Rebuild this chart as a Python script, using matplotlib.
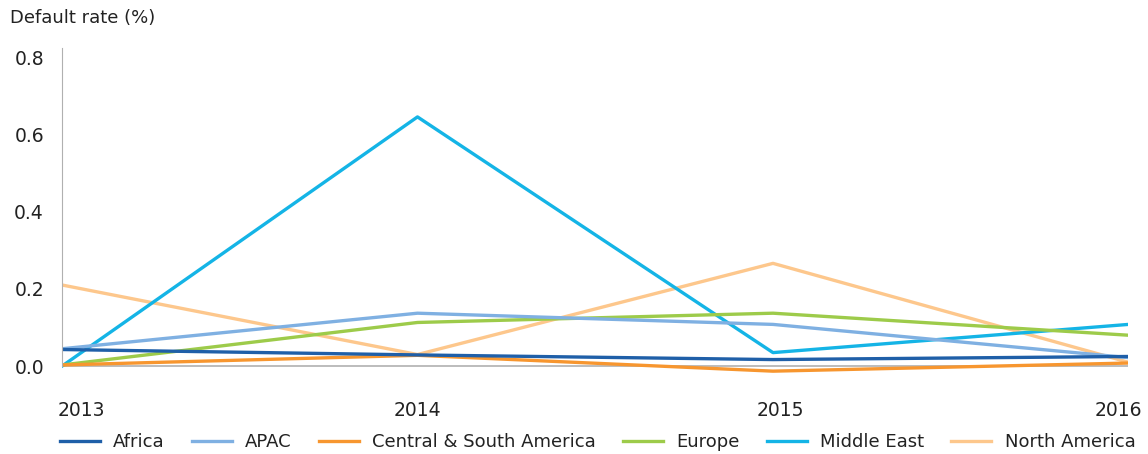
import matplotlib.pyplot as plt
from matplotlib.transforms import ScaledTranslation

plt.rcParams['font.family'] = ['DejaVu Sans']

# Data
years = [2013, 2014, 2015, 2016]
africa = [0.043, 0.029, 0.017, 0.025]
apac = [0.045, 0.137, 0.108, 0.022]
csa = [0.003, 0.028, -0.013, 0.008]
europe = [0.003, 0.113, 0.137, 0.080]
middle_east = [0.000, 0.645, 0.035, 0.108]
north_america = [0.210, 0.030, 0.266, 0.010]

series = [
    ('Africa', africa, '#1f5fa8'),
    ('APAC', apac, '#7fb0e2'),
    ('Central & South America', csa, '#f7962f'),
    ('Europe', europe, '#9dcb4a'),
    ('Middle East', middle_east, '#14b4e6'),
    ('North America', north_america, '#fdc78c'),
]

fig = plt.figure(figsize=(11.48, 4.54), dpi=100)
ax = fig.add_axes([0.054, 0.168, 0.929, 0.726])

ax.axhline(0, color='#b0b0b0', lw=1.2, zorder=1)
for name, vals, col in reversed(series):
    ax.plot(years, vals, color=col, lw=2.4, label=name, zorder=2)

ax.set_xlim(2013, 2016)
ax.set_ylim(-0.03, 0.823)
ax.set_yticks([0.0, 0.2, 0.4, 0.6, 0.8])
ax.set_yticklabels(['0.0', '0.2', '0.4', '0.6', '0.8'])
ax.set_xticks(years)
ax.set_xticklabels([str(y) for y in years])
ax.tick_params(axis='both', length=0, labelsize=13.5, colors='#222222')
ax.tick_params(axis='y', pad=13)
ax.tick_params(axis='x', pad=17)

# nudge year labels like the original
shifts = [-4, 0, 7, 14]
aligns = ['left', 'center', 'center', 'right']
for lab, dx, ha in zip(ax.get_xticklabels(), shifts, aligns):
    lab.set_ha(ha)
    lab.set_transform(lab.get_transform() + ScaledTranslation(dx / 100, 0, fig.dpi_scale_trans))

for s in ['top', 'right', 'bottom']:
    ax.spines[s].set_visible(False)
ax.spines['left'].set_color('#b0b0b0')
ax.spines['left'].set_bounds(0, 0.823)

fig.text(0.009, 0.96, 'Default rate (%)', fontsize=13, color='#222222', va='center')

handles, labels = ax.get_legend_handles_labels()
fig.legend(handles[::-1], labels[::-1], loc='center left', bbox_to_anchor=(0.046, 0.026),
           ncol=6, frameon=False, fontsize=13, handlelength=2.2, handletextpad=0.75,
           columnspacing=1.5, labelcolor='#222222', borderaxespad=0)

fig.savefig('out.png', dpi=100)
